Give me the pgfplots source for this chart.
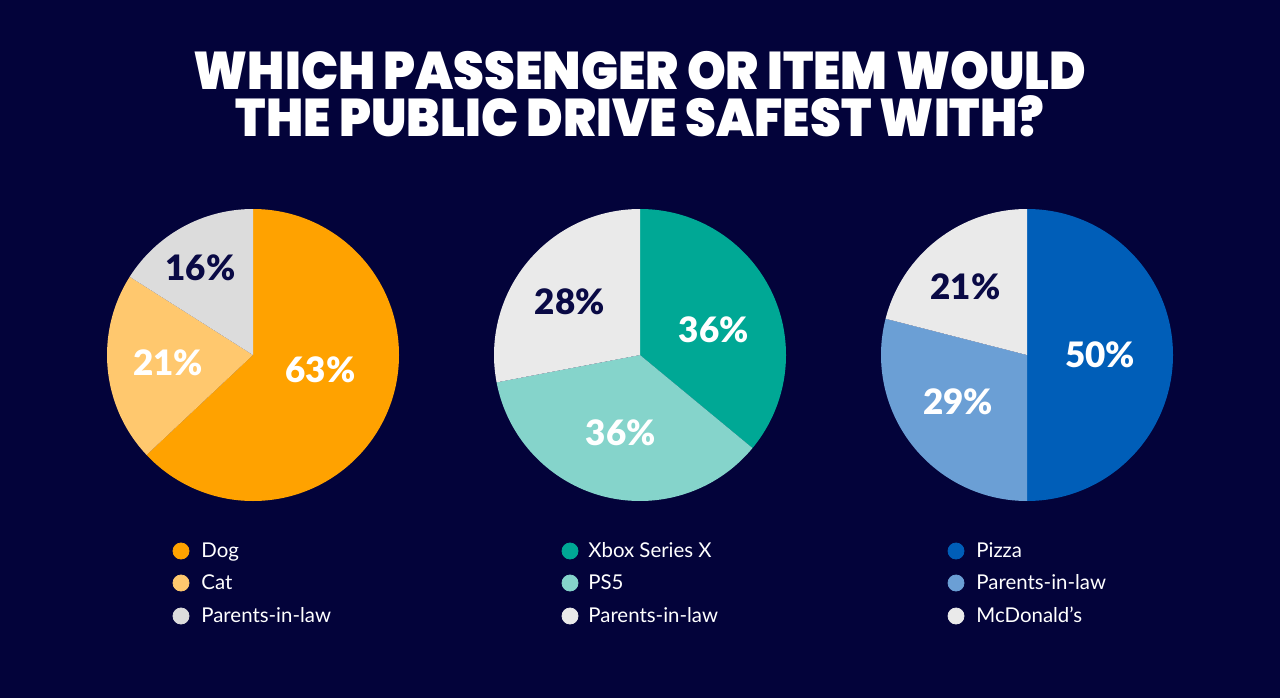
\documentclass[border=0pt]{standalone}
\usepackage{fontspec}
\usepackage{pgfplots}
\usepackage{pgfplotstable}
\pgfplotsset{compat=1.18}
\setmainfont{Lato}
\IfFontExistsTF{Poppins Black}{\newfontfamily\titlefamily{Poppins Black}}{\newfontfamily\titlefamily{Poppins}[FakeBold=3]}
\IfFontExistsTF{Lato Black}{\newfontfamily\pctfamily{Lato Black}}{\newfontfamily\pctfamily{Lato}[FakeBold=2]}
\newfontfamily\legfamily{Lato}
\newcommand\titlestyle{\titlefamily\fontsize{26.5}{28}\selectfont}
\newcommand\pctstyle{\pctfamily\fontsize{17.5}{20}\selectfont}
\newcommand\legstyle{\legfamily\fontsize{10.2}{12}\selectfont}

\definecolor{bg}{HTML}{03033A}
\definecolor{navytext}{HTML}{0A0A45}
\definecolor{dogc}{HTML}{FFA200}
\definecolor{catc}{HTML}{FFC86E}
\definecolor{grayA}{HTML}{DCDCDC}
\definecolor{xboxc}{HTML}{00A895}
\definecolor{psc}{HTML}{85D4CB}
\definecolor{grayB}{HTML}{EAEAEA}
\definecolor{pizzac}{HTML}{005EB8}
\definecolor{plawc}{HTML}{6B9FD5}
\definecolor{grayC}{HTML}{EAEAEA}

% value, slice colour, label colour, label angle, label radius (px)
\pgfplotstableread{
label value fill text la lr
Dog 63 dogc white -12.6 69
Cat 21 catc white 185 85
Parents 16 grayA navytext 121 102
}\tabA
\pgfplotstableread{
label value fill text la lr
Xbox 36 xboxc white 18.7 78
PS5 36 psc white -104 80
Parents 28 grayB navytext 143 88
}\tabB
\pgfplotstableread{
label value fill text la lr
Pizza 50 pizzac white 0 73
Parents 29 plawc white 214 83
McDonalds 21 grayC navytext 132 92
}\tabC

\newcommand\drawpie[3]{%
  \pgfplotstablegetrowsof{#1}%
  \pgfmathtruncatemacro\lastrow{\pgfplotsretval-1}%
  \gdef\startang{90}%
  \foreach \i in {0,...,\lastrow}{%
    \pgfplotstablegetelem{\i}{value}\of{#1}\let\val\pgfplotsretval
    \pgfplotstablegetelem{\i}{fill}\of{#1}\let\fc\pgfplotsretval
    \pgfmathsetmacro\endang{\startang-3.6*\val}%
    \pgfmathsetmacro\sx{#2+146*cos(\startang)}%
    \pgfmathsetmacro\sy{#3+146*sin(\startang)}%
    \edef\cmd{\noexpand\fill[\fc] (axis cs:#2,#3) -- (axis cs:\sx,\sy) arc[start angle=\startang, end angle=\endang, radius=73pt] -- cycle;}%
    \cmd
    \xdef\startang{\endang}%
  }%
  \foreach \i in {0,...,\lastrow}{%
    \pgfplotstablegetelem{\i}{value}\of{#1}\let\val\pgfplotsretval
    \pgfplotstablegetelem{\i}{text}\of{#1}\let\tc\pgfplotsretval
    \pgfplotstablegetelem{\i}{la}\of{#1}\let\la\pgfplotsretval
    \pgfplotstablegetelem{\i}{lr}\of{#1}\let\lr\pgfplotsretval
    \pgfmathsetmacro\lx{#2+\lr*cos(\la)}%
    \pgfmathsetmacro\ly{#3+\lr*sin(\la)}%
    \edef\cmd{\noexpand\node[text=\tc, font=\noexpand\pctstyle, inner sep=0pt] at (axis cs:\lx,\ly) {\val\noexpand\%};}%
    \cmd
  }%
}

\begin{document}
\begin{tikzpicture}
\fill[bg] (0,0) rectangle (640pt,349pt);
\begin{axis}[at={(0,0)}, anchor=south west, scale only axis, width=640pt, height=349pt,
  xmin=0, xmax=1280, ymin=0, ymax=698, axis lines=none, clip=false]
\drawpie{\tabA}{253}{343}
\drawpie{\tabB}{640}{343}
\drawpie{\tabC}{1027}{343}
% legends
\addplot[only marks, mark=*, mark size=4pt, color=dogc] coordinates {(181,147)};
\addplot[only marks, mark=*, mark size=4pt, color=catc] coordinates {(181,115)};
\addplot[only marks, mark=*, mark size=4pt, color=grayA] coordinates {(181,82)};
\addplot[only marks, mark=*, mark size=4pt, color=xboxc] coordinates {(570,147)};
\addplot[only marks, mark=*, mark size=4pt, color=psc] coordinates {(570,115)};
\addplot[only marks, mark=*, mark size=4pt, color=grayB] coordinates {(570,82)};
\addplot[only marks, mark=*, mark size=4pt, color=pizzac] coordinates {(956,147)};
\addplot[only marks, mark=*, mark size=4pt, color=plawc] coordinates {(956,115)};
\addplot[only marks, mark=*, mark size=4pt, color=grayC] coordinates {(956,82)};
\begin{scope}[every node/.style={anchor=base west, inner sep=0pt, text=white, font=\legstyle}]
\node at (axis cs:201,140.5) {Dog};
\node at (axis cs:201,108.5) {Cat};
\node at (axis cs:201,75.5) {Parents-in-law};
\node at (axis cs:588,140.5) {Xbox Series X};
\node at (axis cs:588,108.5) {PS5};
\node at (axis cs:588,75.5) {Parents-in-law};
\node at (axis cs:976,140.5) {Pizza};
\node at (axis cs:976,108.5) {Parents-in-law};
\node at (axis cs:976,75.5) {McDonald’s};
\end{scope}
\node[anchor=base, inner sep=0pt, text=white, font=\titlestyle, xscale=0.93] at (axis cs:640,609) {WHICH PASSENGER OR ITEM WOULD};
\node[anchor=base, inner sep=0pt, text=white, font=\titlestyle, xscale=0.93] at (axis cs:640,561) {THE PUBLIC DRIVE SAFEST WITH?};
\end{axis}
\end{tikzpicture}
\end{document}
